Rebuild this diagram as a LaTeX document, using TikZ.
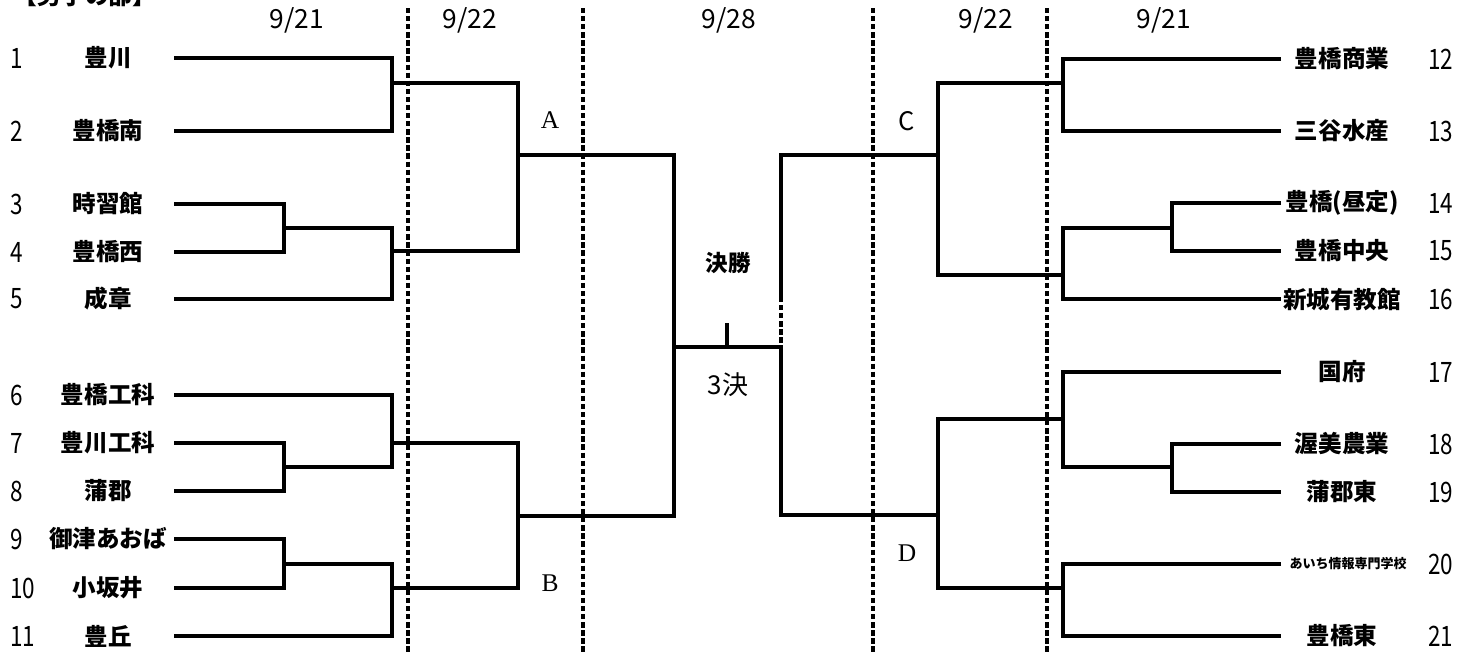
\documentclass[tikz,border=0pt]{standalone}
\usepackage{fontspec}
\setmainfont{Liberation Serif}
\newfontfamily\jpfont{Noto Sans CJK JP}
\newfontfamily\numfont{Noto Sans CJK JP}[FakeStretch=0.8]

\begin{document}
\begin{tikzpicture}[x=0.02cm, y=-0.02cm,
  team/.style={font={\jpfont\bfseries\fontsize{13.4}{14}\selectfont}},
  smallteam/.style={font={\jpfont\bfseries\fontsize{7.4}{8}\selectfont}},
  seed/.style={anchor=west, inner sep=0pt, font={\numfont\fontsize{16}{17}\selectfont}},
  day/.style={font={\jpfont\fontsize{15}{16}\selectfont}},
  block/.style={font={\fontsize{14.5}{15}\selectfont}},
  bracket/.style={line width=2pt},
  dayline/.style={line width=2pt, dash pattern=on 3pt off 1.6pt}]
\useasboundingbox (0,0) rectangle (1469,653);

\path (85,4) node (title) [anchor=base, font={\jpfont\bfseries\fontsize{13.5}{14}\selectfont}] {【男子の部】};

\foreach \x in {408,583,873,1047}
  \draw[dayline] (\x,8) -- (\x,653);

\path (297,20) node (d1) [day] {9/21};
\path (470,20) node (d2) [day] {9/22};
\path (729,20) node (d3) [day] {9/28};
\path (986,20) node (d4) [day] {9/22};
\path (1164,20) node (d5) [day] {9/21};

\foreach \n/\y/\t in {1/58/豊川, 2/131/豊橋南, 3/204/時習館, 4/252/豊橋西, 5/299/成章,
    6/395/豊橋工科, 7/443/豊川工科, 8/491/蒲郡, 9/539/御津あおば, 10/588/小坂井, 11/636/豊丘} {
  \path (10,\y) node (n\n) [seed] {\n};
  \path (108,\y) node (t\n) [team] {\t};
  \coordinate (s\n) at (174,\y);
}
\foreach \n/\y/\t in {12/59/豊橋商業, 13/131/三谷水産, 14/203/豊橋(昼定), 15/251/豊橋中央, 16/299/新城有教館,
    17/372/国府, 18/444/渥美農業, 19/492/蒲郡東, 21/636/豊橋東} {
  \path (1428,\y) node (n\n) [seed] {\n};
  \path (1342,\y) node (t\n) [team] {\t};
  \coordinate (r\n) at (1281,\y);
}
\path (1428,564) node (n20) [seed] {20};
\path (1348,564) node (t20) [smallteam] {あいち情報専門学校};
\coordinate (r20) at (1281,564);

\coordinate (j12) at (392,83);
\coordinate (j34) at (284,228);
\coordinate (j345) at (392,251);
\coordinate (jA) at (518,155);
\coordinate (j78) at (284,467);
\coordinate (j678) at (392,443);
\coordinate (j910) at (284,564);
\coordinate (j911) at (392,588);
\coordinate (jB) at (518,516);
\coordinate (jL) at (674,347);

\coordinate (k1213) at (1063,83);
\coordinate (k1415) at (1172,228);
\coordinate (k1416) at (1063,275);
\coordinate (kC) at (938,155);
\coordinate (k1819) at (1172,467);
\coordinate (k1719) at (1063,419);
\coordinate (k2021) at (1063,588);
\coordinate (kD) at (938,515);
\coordinate (kR1) at (781,297);
\coordinate (kR) at (781,347);
\coordinate (tick) at (727,323);

\draw[bracket] (s1) -| (j12) |- (s2);
\draw[bracket] (s3) -| (j34) |- (s4);
\draw[bracket] (j34) -| (j345) |- (s5);
\draw[bracket] (j12) -| (jA) |- (j345);
\draw[bracket] (s7) -| (j78) |- (s8);
\draw[bracket] (s6) -| (j678) |- (j78);
\draw[bracket] (s9) -| (j910) |- (s10);
\draw[bracket] (j910) -| (j911) |- (s11);
\draw[bracket] (j678) -| (jB) |- (j911);
\draw[bracket] (jA) -| (jL) |- (jB);

\draw[bracket] (r12) -| (k1213) |- (r13);
\draw[bracket] (r14) -| (k1415) |- (r15);
\draw[bracket] (k1415) -| (k1416) |- (r16);
\draw[bracket] (k1213) -| (kC) |- (k1416);
\draw[bracket] (r18) -| (k1819) |- (r19);
\draw[bracket] (r17) -| (k1719) |- (k1819);
\draw[bracket] (r20) -| (k2021) |- (r21);
\draw[bracket] (k1719) -| (kD) |- (k2021);
\draw[bracket] (kC) -| (kR1);
\draw[dayline] (kR1) -- (kR);
\draw[bracket] (jL) -- (kR) |- (kD);
\draw[bracket] (tick) -- (tick |- jL);

\path (728,263) node (final) [font={\jpfont\bfseries\fontsize{12.8}{13}\selectfont}] {決勝};
\path (728,385) node (third) [font={\jpfont\fontsize{14.8}{15}\selectfont}] {3決};

\path (550,120) node (A) [block] {A};
\path (550,583) node (B) [block] {B};
\path (907,121) node (C) [block, font={\jpfont\fontsize{14.5}{15}\selectfont}] {C};
\path (907,553) node (D) [block] {D};
\end{tikzpicture}
\end{document}
